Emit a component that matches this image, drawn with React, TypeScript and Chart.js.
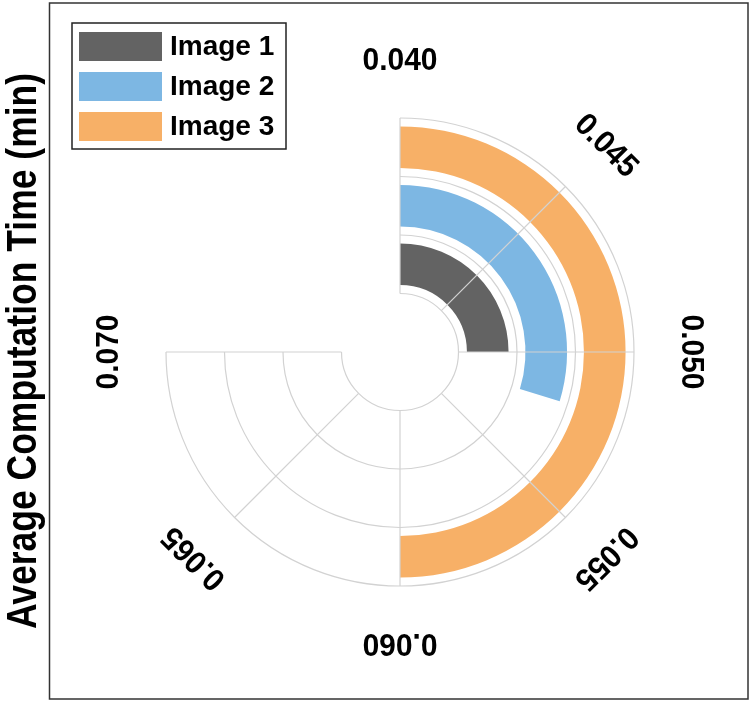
import React, { useEffect, useRef } from 'react';
import { Chart, registerables } from 'chart.js';

Chart.register(...registerables);

// ---- data ----
const categories = ['Image 1', 'Image 2', 'Image 3'];
const values = [0.05, 0.0519, 0.06];
const barColors = ['#636363', '#7db7e3', '#f7b067'];
const tickValues = [0.04, 0.045, 0.05, 0.055, 0.06, 0.065, 0.07];
const tickLabels = ['0.040', '0.045', '0.050', '0.055', '0.060', '0.065', '0.070'];
const axisMin = 0.04;
const axisMax = 0.07;
const axisTitle = 'Average Computation Time (min)';

const FONT = '"Liberation Sans", Arial, Helvetica, sans-serif';
const CLEAR = 'rgba(0,0,0,0)';

const common = { borderWidth: 0, hoverBorderWidth: 0, hoverOffset: 0, offset: 0 };

const barRing = (i: number) => ({
  label: categories[i],
  data: [values[i] - axisMin, axisMax - values[i]],
  backgroundColor: [barColors[i], CLEAR],
  hoverBackgroundColor: [barColors[i], CLEAR],
  weight: 42,
  ...common,
});

const gapRing = (w: number) => ({
  label: '',
  data: [axisMax - axisMin],
  backgroundColor: [CLEAR],
  hoverBackgroundColor: [CLEAR],
  weight: w,
  ...common,
});

const angleOf = (v: number) => -Math.PI / 2 + ((v - axisMin) / (axisMax - axisMin)) * 1.5 * Math.PI;

const polarGridPlugin = {
  id: 'polarGrid',
  afterDatasetsDraw(chart: any) {
    const n = chart.data.datasets.length;
    const outerArc = chart.getDatasetMeta(0).data[0];
    const innerArc = chart.getDatasetMeta(n - 1).data[0];
    if (!outerArc || !innerArc) return;
    const cx = outerArc.x;
    const cy = outerArc.y;
    const rOut = outerArc.outerRadius;
    const rIn = innerArc.innerRadius;
    const ctx = chart.ctx;
    ctx.save();
    ctx.strokeStyle = '#d2d2d2';
    ctx.lineWidth = 1.2;
    const a0 = angleOf(axisMin);
    const a1 = angleOf(axisMax);
    for (let k = 0; k <= categories.length; k++) {
      const r = rIn + (k * (rOut - rIn)) / categories.length;
      ctx.beginPath();
      ctx.arc(cx, cy, r, a0, a1);
      ctx.stroke();
    }
    tickValues.forEach((v) => {
      const a = angleOf(v);
      ctx.beginPath();
      ctx.moveTo(cx + rIn * Math.cos(a), cy + rIn * Math.sin(a));
      ctx.lineTo(cx + rOut * Math.cos(a), cy + rOut * Math.sin(a));
      ctx.stroke();
    });
    // tick labels
    ctx.fillStyle = '#000';
    ctx.font = `bold 30px ${FONT}`;
    ctx.textAlign = 'center';
    ctx.textBaseline = 'middle';
    const rl = rOut + 57;
    tickValues.forEach((v, i) => {
      const a = angleOf(v);
      ctx.save();
      ctx.translate(cx + rl * Math.cos(a), cy + rl * Math.sin(a));
      ctx.rotate(a + Math.PI / 2);
      ctx.scale(1, 1.06);
      ctx.fillText(tickLabels[i], 0, 0);
      ctx.restore();
    });
    ctx.restore();
  },
  afterDraw(chart: any) {
    const ctx = chart.ctx;
    ctx.save();
    // outer frame
    ctx.strokeStyle = '#333';
    ctx.lineWidth = 1.5;
    ctx.strokeRect(49.5, 3, 698.5, 696);
    // axis title
    ctx.fillStyle = '#000';
    ctx.save();
    ctx.translate(36, 351);
    ctx.rotate(-Math.PI / 2);
    ctx.scale(1, 1.2);
    ctx.font = `bold 35.5px ${FONT}`;
    ctx.textAlign = 'center';
    ctx.textBaseline = 'alphabetic';
    ctx.fillText(axisTitle, 0, 0);
    ctx.restore();
    // legend
    ctx.fillStyle = '#fff';
    ctx.fillRect(72, 23, 214, 126);
    ctx.strokeStyle = '#222';
    ctx.lineWidth = 1.5;
    ctx.strokeRect(72, 23, 214, 126);
    ctx.font = `bold 28px ${FONT}`;
    ctx.textAlign = 'left';
    ctx.textBaseline = 'middle';
    categories.forEach((c, i) => {
      const y = 32 + i * 40;
      ctx.fillStyle = barColors[i];
      ctx.fillRect(79, y, 83, 29);
      ctx.fillStyle = '#000';
      ctx.fillText(c, 170, y + 15.5);
    });
    ctx.restore();
  },
};

export default function App() {
  const ref = useRef<HTMLCanvasElement | null>(null);
  useEffect(() => {
    if (!ref.current) return;
    const chart = new Chart(ref.current, {
      type: 'doughnut',
      data: {
        labels: ['value', 'rest'],
        datasets: [
          gapRing(8.5),
          barRing(2),
          gapRing(17),
          barRing(1),
          gapRing(17),
          barRing(0),
          gapRing(8.5),
        ] as any,
      },
      options: {
        responsive: false,
        animation: false,
        devicePixelRatio: 1,
        rotation: 0,
        circumference: 270,
        cutout: '25%',
        spacing: 0,
        layout: { padding: { left: 166, top: 118, right: 121, bottom: 120 } },
        plugins: {
          legend: { display: false },
          tooltip: { enabled: false },
          title: { display: false },
        },
        events: [],
      } as any,
      plugins: [polarGridPlugin],
    });
    return () => chart.destroy();
  }, []);
  return (
    <div style={{ position: 'absolute', left: 0, top: 0, width: 755, height: 706, background: '#fff' }}>
      <canvas ref={ref} width={755} height={706} style={{ display: 'block' }} />
    </div>
  );
}
